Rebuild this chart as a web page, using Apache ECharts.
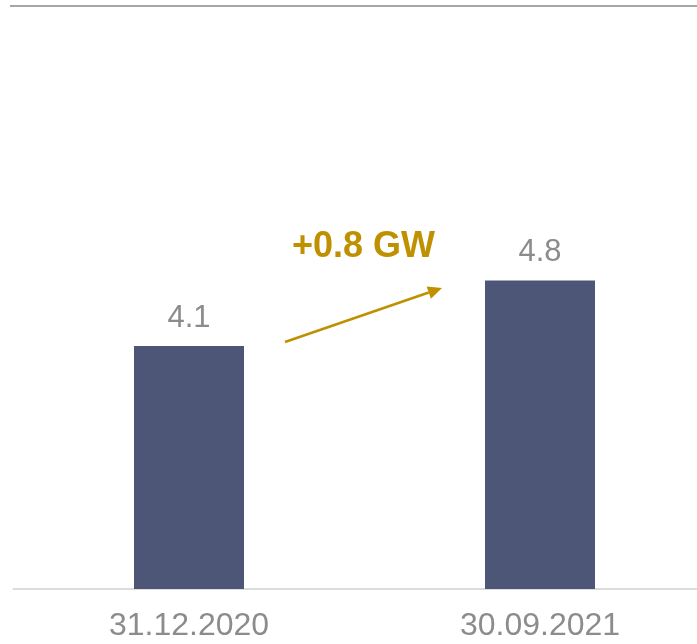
<!DOCTYPE html>
<html><head><meta charset="utf-8">
<script src="https://cdn.jsdelivr.net/npm/echarts@6/dist/echarts.min.js"></script>
<style>html,body{margin:0;padding:0;background:#fff;overflow:hidden}#c{width:716px;height:644px}</style>
</head><body><div id="c"></div>
<script>
const categories = ['31.12.2020', '30.09.2021'];
const values = [4.1, 4.8];
const deltaLabel = '+0.8 GW';

const chart = echarts.init(document.getElementById('c'));
const tip = [442, 288], start = [285, 342];
const dx = tip[0]-start[0], dy = tip[1]-start[1], L = Math.hypot(dx, dy);
const u = [dx/L, dy/L], n = [-u[1], u[0]];
const hl = 14, hw = 6.5;
const base = [tip[0]-hl*u[0], tip[1]-hl*u[1]];
chart.setOption({
  animation: false,
  grid: {left: 13.5, right: 0.5, top: 28, bottom: 55},
  xAxis: {
    type: 'category', data: categories,
    axisLine: {show: true, lineStyle: {color: '#dcdcdc', width: 2}},
    axisTick: {show: false},
    axisLabel: {color: '#8c8c8c', fontSize: 32, fontFamily: 'Liberation Sans', margin: 21}
  },
  yAxis: {type: 'value', min: 1.5, max: 7.5, show: false, splitLine: {show: false}},
  series: [{
    type: 'bar', data: values, barWidth: 110,
    itemStyle: {color: '#4e5677'},
    label: {show: true, position: 'top', distance: 12, color: '#8c8c8c', fontSize: 31,
      fontFamily: 'Liberation Sans', formatter: p => p.value.toFixed(1)}
  }],
  graphic: [
    {type: 'line', shape: {x1: 10, y1: 6, x2: 716, y2: 6}, style: {stroke: '#a6a6a6', lineWidth: 2}},
    {type: 'line', shape: {x1: start[0], y1: start[1], x2: base[0], y2: base[1]}, style: {stroke: '#bf9000', lineWidth: 2.5}},
    {type: 'polygon', shape: {points: [tip, [base[0]+hw*n[0], base[1]+hw*n[1]], [base[0]-hw*n[0], base[1]-hw*n[1]]]}, style: {fill: '#bf9000'}},
    {type: 'text', x: 363.5, y: 247, style: {text: deltaLabel, fill: '#bf9000', font: 'bold 36px "Liberation Sans"', textAlign: 'center', textVerticalAlign: 'middle'}}
  ]
});
</script></body></html>
